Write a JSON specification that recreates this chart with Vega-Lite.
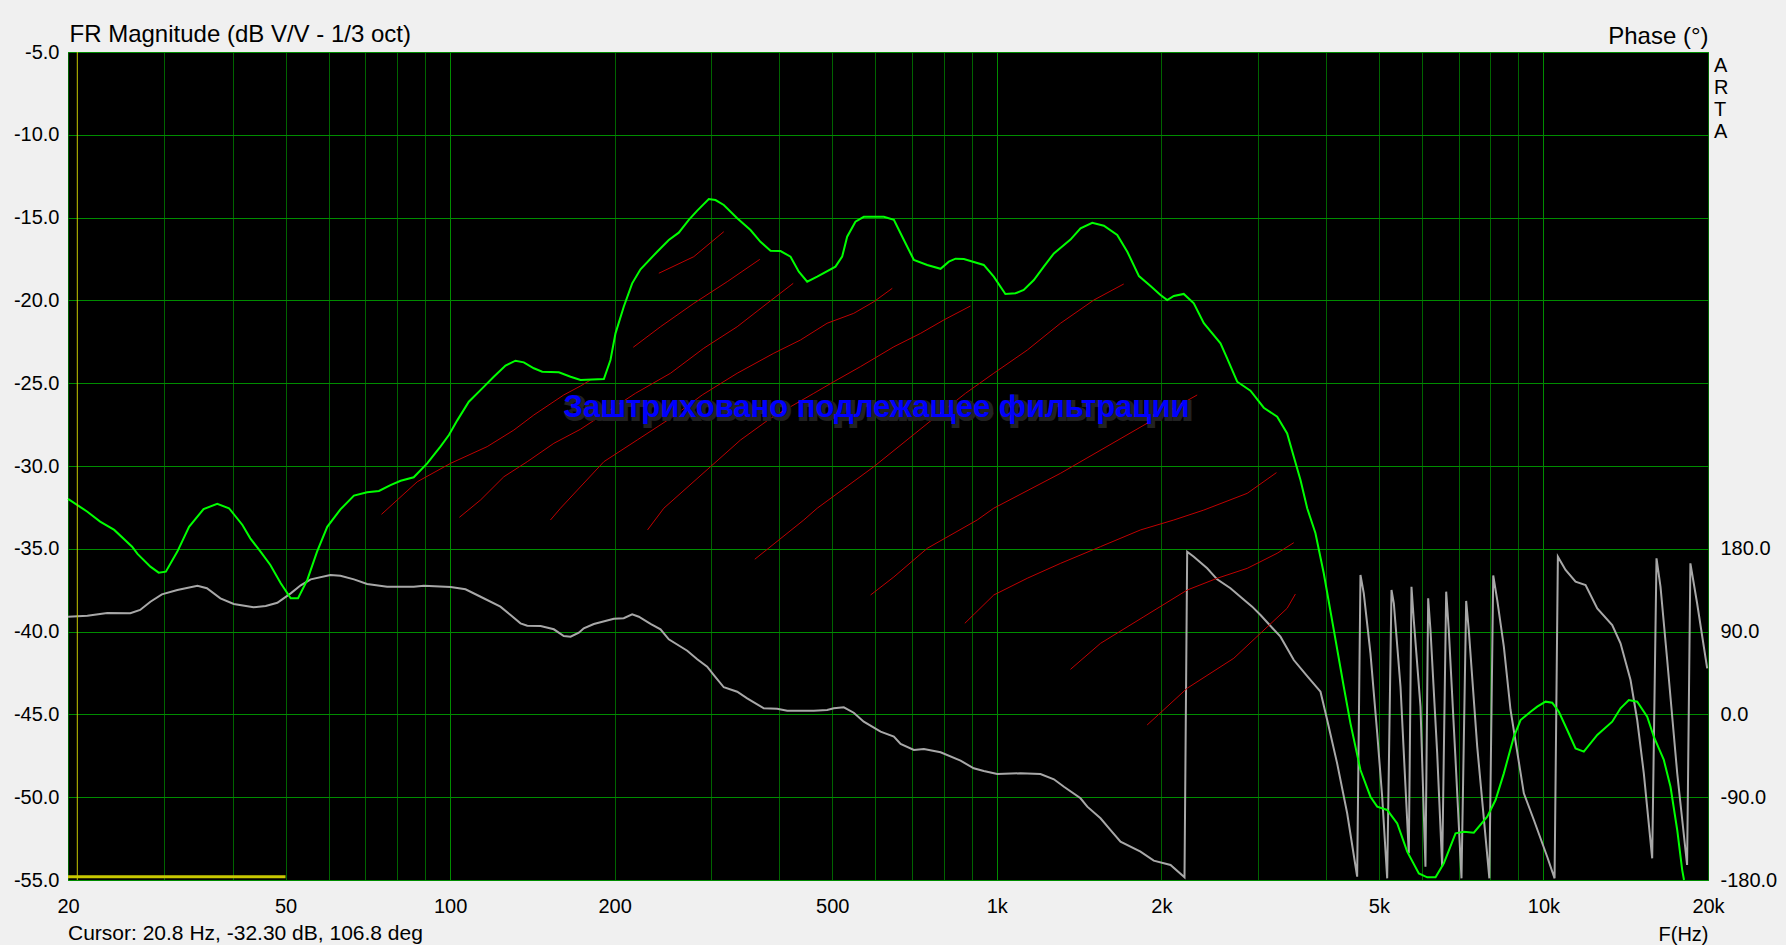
{
  "$schema": "https://vega.github.io/schema/vega-lite/v6.json",
  "width": 1640,
  "height": 828,
  "autosize": {"type": "none"},
  "padding": {"left": 68, "top": 52, "right": 78, "bottom": 65},
  "background": "#f0f0f0",
  "datasets": {
    "mag": [
      {"f":20,"db":-31.99},{"f":21.7,"db":-32.76},{"f":22.9,"db":-33.36},{"f":24.3,"db":-33.86},{"f":26.2,"db":-34.87},{"f":26.8,"db":-35.31},{"f":28.3,"db":-36.08},{"f":29.3,"db":-36.44},{"f":30.2,"db":-36.38},{"f":31.7,"db":-35.17},{"f":33.3,"db":-33.67},{"f":35.4,"db":-32.6},{"f":37.5,"db":-32.29},{"f":39.4,"db":-32.55},{"f":41.7,"db":-33.56},{"f":43.1,"db":-34.37},{"f":45.0,"db":-35.17},{"f":46.9,"db":-35.98},{"f":49.0,"db":-37.08},{"f":51.1,"db":-37.99},{"f":52.7,"db":-37.99},{"f":54.8,"db":-36.88},{"f":57.1,"db":-35.17},{"f":59.6,"db":-33.67},{"f":63.0,"db":-32.62},{"f":66.7,"db":-31.79},{"f":70.5,"db":-31.59},{"f":74.1,"db":-31.51},{"f":77.8,"db":-31.15},{"f":81.2,"db":-30.89},{"f":85.8,"db":-30.68},{"f":90.8,"db":-29.84},{"f":96.0,"db":-28.83},{"f":99.5,"db":-28.13},{"f":103,"db":-27.26},{"f":108.2,"db":-26.12},{"f":114.5,"db":-25.31},{"f":120.2,"db":-24.61},{"f":126.3,"db":-23.94},{"f":131.7,"db":-23.64},{"f":136.4,"db":-23.74},{"f":142.3,"db":-24.1},{"f":147.4,"db":-24.31},{"f":158.1,"db":-24.34},{"f":166.1,"db":-24.61},{"f":173.2,"db":-24.81},{"f":191.1,"db":-24.75},{"f":196.5,"db":-23.6},{"f":200.7,"db":-21.99},{"f":207.8,"db":-20.38},{"f":215.3,"db":-18.97},{"f":223,"db":-18.12},{"f":239.2,"db":-17.06},{"f":251.2,"db":-16.35},{"f":262,"db":-15.91},{"f":273.3,"db":-15.14},{"f":283.2,"db":-14.58},{"f":297.3,"db":-13.88},{"f":305.8,"db":-13.94},{"f":316.7,"db":-14.24},{"f":335.1,"db":-15.04},{"f":354.4,"db":-15.75},{"f":369.6,"db":-16.46},{"f":385.6,"db":-17.0},{"f":402.2,"db":-17.02},{"f":419.5,"db":-17.36},{"f":434.4,"db":-18.27},{"f":450,"db":-18.87},{"f":469.4,"db":-18.57},{"f":506.9,"db":-17.96},{"f":521.4,"db":-17.36},{"f":532.5,"db":-16.15},{"f":551.4,"db":-15.25},{"f":571.1,"db":-14.95},{"f":621.5,"db":-14.95},{"f":648.3,"db":-15.14},{"f":676.2,"db":-16.35},{"f":705.3,"db":-17.56},{"f":746.2,"db":-17.86},{"f":789.2,"db":-18.09},{"f":817.2,"db":-17.66},{"f":840.6,"db":-17.48},{"f":870.5,"db":-17.5},{"f":946.7,"db":-17.86},{"f":987.4,"db":-18.57},{"f":1037,"db":-19.61},{"f":1082,"db":-19.57},{"f":1120,"db":-19.37},{"f":1169,"db":-18.77},{"f":1219,"db":-17.96},{"f":1272,"db":-17.16},{"f":1364,"db":-16.33},{"f":1423,"db":-15.65},{"f":1495,"db":-15.31},{"f":1570,"db":-15.49},{"f":1661,"db":-16.05},{"f":1733,"db":-17.06},{"f":1820,"db":-18.53},{"f":1911,"db":-19.13},{"f":1993,"db":-19.67},{"f":2050,"db":-19.98},{"f":2108,"db":-19.73},{"f":2198,"db":-19.61},{"f":2293,"db":-20.18},{"f":2392,"db":-21.38},{"f":2566,"db":-22.59},{"f":2639,"db":-23.5},{"f":2753,"db":-24.91},{"f":2911,"db":-25.45},{"f":3079,"db":-26.48},{"f":3258,"db":-27.02},{"f":3398,"db":-28.03},{"f":3494,"db":-29.44},{"f":3594,"db":-30.85},{"f":3697,"db":-32.55},{"f":3828,"db":-34.06},{"f":3964,"db":-36.48},{"f":4135,"db":-39.9},{"f":4313,"db":-43.33},{"f":4436,"db":-45.54},{"f":4627,"db":-48.36},{"f":4826,"db":-49.97},{"f":4965,"db":-50.57},{"f":5178,"db":-50.77},{"f":5402,"db":-51.58},{"f":5634,"db":-53.29},{"f":5917,"db":-54.6},{"f":6130,"db":-54.84},{"f":6348,"db":-54.84},{"f":6573,"db":-53.99},{"f":6906,"db":-52.18},{"f":7151,"db":-52.08},{"f":7459,"db":-52.14},{"f":7892,"db":-51.18},{"f":8173,"db":-50.17},{"f":8464,"db":-48.56},{"f":8828,"db":-46.35},{"f":9081,"db":-45.34},{"f":9472,"db":-44.84},{"f":9743,"db":-44.53},{"f":10090,"db":-44.23},{"f":10378,"db":-44.29},{"f":10671,"db":-44.84},{"f":11055,"db":-45.94},{"f":11448,"db":-47.05},{"f":11855,"db":-47.25},{"f":12544,"db":-46.24},{"f":13360,"db":-45.44},{"f":13836,"db":-44.63},{"f":14328,"db":-44.13},{"f":14843,"db":-44.23},{"f":15482,"db":-45.14},{"f":15918,"db":-46.35},{"f":16604,"db":-47.75},{"f":17078,"db":-49.37},{"f":17568,"db":-51.98},{"f":17942,"db":-54.4},{"f":18078,"db":-55}
    ],
    "phase": [
      {"f":20,"ph":106.2},{"f":21.7,"ph":107.3},{"f":23.6,"ph":110.2},{"f":26.0,"ph":109.9},{"f":27.1,"ph":113.5},{"f":28.3,"ph":122.5},{"f":29.7,"ph":130.5},{"f":31.7,"ph":135.2},{"f":34.5,"ph":139.9},{"f":35.9,"ph":137.1},{"f":38.0,"ph":126.2},{"f":40.2,"ph":120},{"f":43.7,"ph":116.4},{"f":46.0,"ph":117.8},{"f":48.3,"ph":121.4},{"f":51.1,"ph":131.6},{"f":53.3,"ph":140.3},{"f":55.6,"ph":146.8},{"f":60.4,"ph":151.5},{"f":63.0,"ph":150.8},{"f":66.7,"ph":146.8},{"f":70.5,"ph":141.7},{"f":76.7,"ph":138.8},{"f":85.8,"ph":138.8},{"f":89.5,"ph":139.9},{"f":100.2,"ph":138.5},{"f":106.7,"ph":136},{"f":113.7,"ph":127.9},{"f":123.6,"ph":117.1},{"f":129,"ph":108},{"f":134.5,"ph":99},{"f":138.4,"ph":96.4},{"f":146.4,"ph":96.1},{"f":154.8,"ph":92.5},{"f":161.4,"ph":85.2},{"f":166.1,"ph":84.5},{"f":172,"ph":88.8},{"f":175.6,"ph":93.6},{"f":183.2,"ph":98.3},{"f":199.3,"ph":104},{"f":207.8,"ph":104.5},{"f":215.3,"ph":108.8},{"f":221.4,"ph":106.2},{"f":232.6,"ph":98.3},{"f":242.6,"ph":92.5},{"f":251.2,"ph":81.6},{"f":271.5,"ph":69.2},{"f":283.2,"ph":59.9},{"f":295.3,"ph":51.8},{"f":303.7,"ph":42.8},{"f":316.7,"ph":29.5},{"f":335.1,"ph":24.7},{"f":349.5,"ph":17.5},{"f":374.8,"ph":6.6},{"f":396.6,"ph":6.2},{"f":413.7,"ph":4.0},{"f":462.7,"ph":4.0},{"f":489.4,"ph":4.8},{"f":503.3,"ph":6.6},{"f":525,"ph":7.7},{"f":547.5,"ph":1.8},{"f":571.1,"ph":-7.9},{"f":613,"ph":-18.8},{"f":648.3,"ph":-24.2},{"f":666.9,"ph":-32.2},{"f":705.3,"ph":-38.7},{"f":735.6,"ph":-37.6},{"f":789.2,"ph":-41.2},{"f":858.5,"ph":-50.3},{"f":907.7,"ph":-58.6},{"f":946.7,"ph":-61.5},{"f":1002,"ph":-64.8},{"f":1105,"ph":-64.0},{"f":1202,"ph":-64.8},{"f":1272,"ph":-70.5},{"f":1327,"ph":-78.6},{"f":1423,"ph":-91.2},{"f":1464,"ph":-100.3},{"f":1548,"ph":-112.9},{"f":1615,"ph":-125.7},{"f":1684,"ph":-138.4},{"f":1832,"ph":-149.2},{"f":1937,"ph":-159},{"f":2079,"ph":-163.7},{"f":2205,"ph":-177.1},{"f":2230,"ph":176.8},{"f":2293,"ph":171.4},{"f":2426,"ph":158.8},{"f":2530,"ph":146.8},{"f":2676,"ph":137.1},{"f":2811,"ph":126.2},{"f":2932,"ph":117.1},{"f":3037,"ph":108},{"f":3168,"ph":96.1},{"f":3303,"ph":84.5},{"f":3494,"ph":59.1},{"f":3697,"ph":41.7},{"f":3910,"ph":24.7},{"f":4022,"ph":-6.1},{"f":4194,"ph":-53.2},{"f":4375,"ph":-107.5},{"f":4563,"ph":-176.4},{"f":4627,"ph":151.5},{"f":4692,"ph":131.6},{"f":4826,"ph":66.4},{"f":4965,"ph":-20.5},{"f":5070,"ph":-89.5},{"f":5178,"ph":-178.2},{"f":5273,"ph":135.2},{"f":5325,"ph":120.8},{"f":5477,"ph":30.1},{"f":5593,"ph":-78.6},{"f":5672,"ph":-151},{"f":5736,"ph":138.8},{"f":5792,"ph":102.6},{"f":5958,"ph":8.4},{"f":6084,"ph":-165.5},{"f":6154,"ph":126.2},{"f":6214,"ph":91.7},{"f":6392,"ph":-42.3},{"f":6528,"ph":-165.5},{"f":6639,"ph":133.4},{"f":6712,"ph":91.7},{"f":6906,"ph":-49.6},{"f":7081,"ph":-178.2},{"f":7222,"ph":123.3},{"f":7302,"ph":91.7},{"f":7566,"ph":-35.1},{"f":7963,"ph":-178.2},{"f":8094,"ph":151},{"f":8232,"ph":124.3},{"f":8464,"ph":73.6},{"f":8706,"ph":4.8},{"f":9208,"ph":-85.8},{"f":9605,"ph":-114.8},{"f":10160,"ph":-154.7},{"f":10480,"ph":-178.2},{"f":10627,"ph":171.4},{"f":10977,"ph":157},{"f":11448,"ph":144.2},{"f":11942,"ph":140.7},{"f":12544,"ph":115.3},{"f":13360,"ph":97.2},{"f":13836,"ph":77.3},{"f":14432,"ph":37.4},{"f":14843,"ph":-6.1},{"f":15262,"ph":-64},{"f":15810,"ph":-156.4},{"f":16100,"ph":169.7},{"f":16373,"ph":138.8},{"f":16842,"ph":59.1},{"f":17568,"ph":-64},{"f":18314,"ph":-163.7},{"f":18570,"ph":164.2},{"f":19103,"ph":120.8},{"f":19931,"ph":50.1}
    ],
    "hatch": [
      {"id":"h1","f":74.9,"db":-32.92},{"id":"h1","f":87.1,"db":-30.95},{"id":"h1","f":100.2,"db":-29.84},{"id":"h1","f":116.9,"db":-28.83},{"id":"h1","f":130.8,"db":-27.83},{"id":"h1","f":142.3,"db":-26.92},{"id":"h1","f":161.4,"db":-25.71},{"id":"h1","f":173.2,"db":-25.17},{"id":"h1","f":180.6,"db":-24.81},
      {"id":"h2","f":104,"db":-33.1},{"id":"h2","f":113.7,"db":-32.05},{"id":"h2","f":125.4,"db":-30.65},{"id":"h2","f":138.4,"db":-29.74},{"id":"h2","f":154.8,"db":-28.63},{"id":"h2","f":173.2,"db":-27.78},{"id":"h2","f":185.8,"db":-27.12},{"id":"h2","f":218.3,"db":-25.61},{"id":"h2","f":253,"db":-24.4},{"id":"h2","f":291.1,"db":-22.89},{"id":"h2","f":335.1,"db":-21.59},{"id":"h2","f":380.2,"db":-20.18},{"id":"h2","f":424.3,"db":-18.97},
      {"id":"ha","f":240.9,"db":-18.36},{"id":"ha","f":279.1,"db":-17.36},{"id":"ha","f":316.7,"db":-15.85},
      {"id":"hb","f":216.3,"db":-22.83},{"id":"hb","f":242.6,"db":-21.59},{"id":"hb","f":279.1,"db":-20.18},{"id":"hb","f":321.3,"db":-18.87},{"id":"hb","f":368.6,"db":-17.52},
      {"id":"hd","f":152.6,"db":-33.26},{"id":"hd","f":159.2,"db":-32.55},{"id":"hd","f":191.1,"db":-29.74},{"id":"hd","f":219.9,"db":-28.43},{"id":"hd","f":253,"db":-27.12},{"id":"hd","f":289.2,"db":-25.71},{"id":"hd","f":335.1,"db":-24.4},{"id":"hd","f":391,"db":-23.19},{"id":"hd","f":437.5,"db":-22.39},{"id":"hd","f":489.4,"db":-21.38},{"id":"hd","f":547.5,"db":-20.78},{"id":"hd","f":595.9,"db":-20.08},{"id":"hd","f":644,"db":-19.27},
      {"id":"he","f":229.7,"db":-33.86},{"id":"he","f":246,"db":-32.55},{"id":"he","f":299.5,"db":-30.04},{"id":"he","f":339.8,"db":-28.43},{"id":"he","f":385.6,"db":-27.12},{"id":"he","f":462.7,"db":-25.61},{"id":"he","f":503.3,"db":-24.91},{"id":"he","f":563.2,"db":-24.0},{"id":"he","f":648.3,"db":-22.8},{"id":"he","f":725.5,"db":-21.99},{"id":"he","f":800.2,"db":-21.18},{"id":"he","f":895.1,"db":-20.34},
      {"id":"hf","f":360.9,"db":-35.63},{"id":"hf","f":443.6,"db":-33.26},{"id":"hf","f":469.4,"db":-32.55},{"id":"hf","f":595.9,"db":-30.04},{"id":"hf","f":767.2,"db":-27.12},{"id":"hf","f":876.6,"db":-25.61},{"id":"hf","f":987.4,"db":-24.4},{"id":"hf","f":1137,"db":-23.0},{"id":"hf","f":1308,"db":-21.38},{"id":"hf","f":1505,"db":-19.98},{"id":"hf","f":1707,"db":-19.01},
      {"id":"hg","f":587.7,"db":-37.79},{"id":"hg","f":648.3,"db":-36.7},{"id":"hg","f":746.2,"db":-34.97},{"id":"hg","f":920.8,"db":-33.26},{"id":"hg","f":987.4,"db":-32.55},{"id":"hg","f":1308,"db":-30.44},{"id":"hg","f":1884,"db":-27.42},{"id":"hg","f":2326,"db":-25.71},
      {"id":"hh","f":874,"db":-39.5},{"id":"hh","f":987.4,"db":-37.79},{"id":"hh","f":1137,"db":-36.78},{"id":"hh","f":1308,"db":-35.88},{"id":"hh","f":1548,"db":-34.87},{"id":"hh","f":1832,"db":-33.86},{"id":"hh","f":2108,"db":-33.26},{"id":"hh","f":2392,"db":-32.66},{"id":"hh","f":2872,"db":-31.65},{"id":"hh","f":3248,"db":-30.4},
      {"id":"hi","f":1364,"db":-42.28},{"id":"hi","f":1548,"db":-40.71},{"id":"hi","f":1858,"db":-39.1},{"id":"hi","f":2230,"db":-37.49},{"id":"hi","f":2530,"db":-36.78},{"id":"hi","f":2872,"db":-36.18},{"id":"hi","f":3258,"db":-35.27},{"id":"hi","f":3494,"db":-34.63},
      {"id":"hj","f":1884,"db":-45.64},{"id":"hj","f":2230,"db":-43.42},{"id":"hj","f":2714,"db":-41.61},{"id":"hj","f":3037,"db":-40.1},{"id":"hj","f":3398,"db":-38.59},{"id":"hj","f":3518,"db":-37.73}
    ]
  },
  "layer": [
    {
      "data": {"name": "phase"},
      "mark": {"type": "line", "color": "#a8a8a8", "strokeWidth": 2},
      "encoding": {
        "x": {
          "field": "f", "type": "quantitative",
          "scale": {"type": "log", "domain": [20, 20000], "nice": false},
          "axis": {
            "values": [20,30,40,50,60,70,80,90,100,200,300,400,500,600,700,800,900,1000,2000,3000,4000,5000,6000,7000,8000,9000,10000,20000],
            "labelExpr": "indexof([20,50,100,200,500,1000,2000,5000,10000,20000], datum.value) >= 0 ? (datum.value >= 1000 ? (datum.value / 1000) + 'k' : '' + datum.value) : ''",
            "labelFontSize": 20,
            "labelBaseline": "alphabetic",
            "labelPadding": 32,
            "labelFlush": false,
            "labelOverlap": false,
            "labelBound": false,
            "ticks": false,
            "tickSize": 0,
            "domain": false,
            "grid": true,
            "gridColor": {"condition": {"test": "datum.value == 100 || datum.value == 1000 || datum.value == 10000", "value": "#008c00"}, "value": "#006400"},
            "gridWidth": 1,
            "title": "F(Hz)",
            "titleFontSize": 20,
            "titleFontWeight": "normal",
            "titleAlign": "right",
            "titleBaseline": "alphabetic",
            "titleX": 1640,
            "titleY": 60
          }
        },
        "y": {
          "field": "ph", "type": "quantitative",
          "scale": {"domain": [-180, 720], "nice": false, "zero": false},
          "axis": {
            "orient": "right",
            "values": [-180, -90, 0, 90, 180],
            "labelExpr": "(datum.value < 0 ? '-' : '') + format(abs(datum.value), '.1f')",
            "labelFontSize": 20,
            "labelPadding": 12,
            "ticks": false,
            "tickSize": 0,
            "domain": false,
            "grid": false,
            "title": "Phase (°)",
            "titleFontSize": 24,
            "titleFontWeight": "normal",
            "titleAngle": 0,
            "titleAlign": "right",
            "titleBaseline": "alphabetic",
            "titleX": 0,
            "titleY": -9
          }
        }
      }
    },
    {
      "layer": [
        {
          "data": {"name": "hatch"},
          "mark": {"type": "line", "color": "#c00000", "strokeWidth": 1},
          "encoding": {
            "x": {"field": "f", "type": "quantitative", "scale": {"type": "log", "domain": [20, 20000], "nice": false}},
            "y": {"field": "db", "type": "quantitative", "scale": {"domain": [-55, -5], "nice": false, "zero": false}},
            "detail": {"field": "id", "type": "nominal"}
          }
        },
        {
          "data": {"name": "mag"},
          "mark": {"type": "line", "color": "#00ff00", "strokeWidth": 2},
          "encoding": {
            "x": {"field": "f", "type": "quantitative", "scale": {"type": "log", "domain": [20, 20000], "nice": false}},
            "y": {
              "field": "db", "type": "quantitative",
              "scale": {"domain": [-55, -5], "nice": false, "zero": false},
              "axis": {
                "values": [-55, -50, -45, -40, -35, -30, -25, -20, -15, -10, -5],
                "labelExpr": "(datum.value < 0 ? '-' : '') + format(abs(datum.value), '.1f')",
                "labelFontSize": 20,
                "labelPadding": 9,
                "ticks": false,
                "tickSize": 0,
                "domain": false,
                "grid": true,
                "gridColor": "#008c00",
                "gridWidth": 1,
                "title": "FR Magnitude (dB V/V - 1/3 oct)",
                "titleFontSize": 24,
                "titleFontWeight": "normal",
                "titleAngle": 0,
                "titleAlign": "left",
                "titleBaseline": "alphabetic",
                "titleX": 1,
                "titleY": -11
              }
            }
          }
        },
        {
          "data": {"values": [{}]},
          "mark": {"type": "rule", "color": "#c8c800", "strokeWidth": 1},
          "encoding": {"x": {"datum": 20.8, "type": "quantitative"}}
        },
        {
          "data": {"values": [{}]},
          "mark": {"type": "rule", "color": "#c8c800", "strokeWidth": 3},
          "encoding": {
            "x": {"datum": 20, "type": "quantitative"},
            "x2": {"datum": 50},
            "y": {"datum": -54.8, "type": "quantitative"}
          }
        },
        {
          "data": {"values": [{}]},
          "mark": {"type": "text", "text": "Заштриховано подлежащее фильтрации", "font": "Liberation Sans", "fontWeight": "bold", "fontSize": 31, "color": "#222222", "stroke": "#222222", "strokeWidth": 4, "dx": 2, "dy": 2, "align": "center", "baseline": "alphabetic"},
          "encoding": {
            "x": {"datum": 602.7, "type": "quantitative"},
            "y": {"datum": -27.04, "type": "quantitative"}
          }
        },
        {
          "data": {"values": [{}]},
          "mark": {"type": "text", "text": "Заштриховано подлежащее фильтрации", "font": "Liberation Sans", "fontWeight": "bold", "fontSize": 31, "color": "#0000ff", "align": "center", "baseline": "alphabetic"},
          "encoding": {
            "x": {"datum": 602.7, "type": "quantitative"},
            "y": {"datum": -27.04, "type": "quantitative"}
          }
        },
        {
          "data": {"values": [{}]},
          "mark": {"type": "text", "text": ["A", "R", "T", "A"], "lineHeight": 22, "fontSize": 20, "color": "#000000", "align": "left", "baseline": "alphabetic", "dx": 6, "dy": 20},
          "encoding": {
            "x": {"datum": 20000, "type": "quantitative"},
            "y": {"datum": -5, "type": "quantitative"}
          }
        },
        {
          "data": {"values": [{}]},
          "mark": {"type": "text", "text": "Cursor: 20.8 Hz, -32.30 dB, 106.8 deg", "fontSize": 21, "color": "#000000", "align": "left", "baseline": "alphabetic", "dx": 0, "dy": 60},
          "encoding": {
            "x": {"datum": 20, "type": "quantitative"},
            "y": {"datum": -55, "type": "quantitative"}
          }
        }
      ]
    }
  ],
  "resolve": {"scale": {"y": "independent"}},
  "config": {
    "view": {"fill": "#000000", "stroke": "#00a000", "strokeWidth": 1},
    "font": "Liberation Sans",
    "axis": {"labelFont": "Liberation Sans", "titleFont": "Liberation Sans", "labelColor": "#000000", "titleColor": "#000000"},
    "text": {"font": "Liberation Sans"}
  }
}
